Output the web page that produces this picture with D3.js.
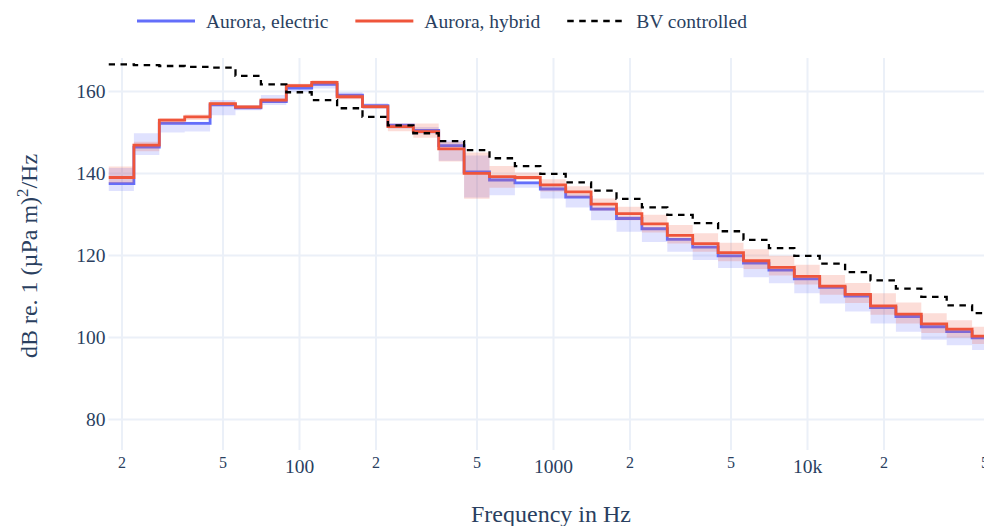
<!DOCTYPE html>
<html>
<head>
<meta charset="utf-8">
<script src="https://cdn.jsdelivr.net/npm/d3@7"></script>
<style>
  html, body { margin: 0; padding: 0; background: #fff; }
  svg { display: block; }
  text { font-family: "Liberation Serif", "Times New Roman", serif; fill: #2a3f5f; }
</style>
</head>
<body>
<svg id="chart" width="984" height="526"></svg>
<script>
// Third-octave band centre frequencies (Hz)
const bands = [20, 25, 31.5, 40, 50, 63, 80, 100, 125, 160, 200, 250, 315, 400, 500, 630, 800,
  1000, 1250, 1600, 2000, 2500, 3150, 4000, 5000, 6300, 8000, 10000, 12500, 16000, 20000,
  25000, 31500, 40000, 50000];

// Aurora, electric: band level and spread (dB)
const electric = [137.4, 146.3, 152.1, 152.1, 156.6, 155.9, 157.4, 160.7, 161.6, 159.0, 156.4, 151.7,
  150.4, 146.7, 140.3, 138.3, 137.6, 136.1, 134.1, 131.2, 128.9, 126.4, 123.8, 121.9, 119.8, 118.0,
  116.3, 114.2, 112.1, 110.0, 107.2, 105.0, 102.5, 101.3, 99.8];
const electricLow = [135.6, 144.4, 149.9, 150.1, 154.1, 155.3, 156.6, 159.8, 160.6, 158.2, 155.6, 150.8,
  149.5, 143.0, 134.0, 134.6, 136.4, 133.8, 131.6, 128.5, 125.7, 123.2, 120.8, 118.8, 116.8, 114.6,
  113.1, 110.7, 108.2, 106.2, 103.3, 101.3, 99.3, 98.0, 96.8];
const electricHigh = [141.2, 149.7, 152.6, 152.5, 157.8, 156.5, 159.0, 161.6, 162.0, 159.7, 157.0, 152.0,
  151.2, 148.0, 144.3, 139.3, 138.0, 137.0, 134.8, 131.8, 129.5, 126.8, 124.2, 122.3, 120.2, 118.4,
  116.7, 114.7, 112.5, 110.4, 107.6, 105.4, 102.9, 101.7, 100.2];

// Aurora, hybrid: band level and spread (dB)
const hybrid = [138.9, 146.8, 152.9, 153.7, 156.9, 156.1, 157.8, 161.3, 162.1, 158.6, 156.2, 151.3,
  150.1, 145.9, 139.9, 139.1, 138.9, 137.1, 135.4, 132.4, 130.1, 127.6, 124.8, 122.8, 120.6, 118.6,
  117.0, 114.8, 112.4, 110.4, 107.6, 105.6, 103.2, 101.9, 100.2];
const hybridLow = [137.5, 145.3, 152.0, 152.9, 156.3, 155.7, 157.2, 160.8, 161.4, 158.0, 155.6, 150.2,
  148.6, 142.8, 133.7, 136.4, 138.3, 135.5, 134.0, 130.8, 128.5, 125.5, 122.8, 120.8, 118.5, 116.6,
  115.0, 112.8, 110.3, 108.3, 105.4, 103.3, 101.0, 99.8, 98.3];
const hybridHigh = [141.6, 147.6, 153.4, 154.3, 157.4, 156.6, 158.3, 161.8, 162.6, 159.3, 156.7, 152.1,
  152.1, 147.6, 145.0, 141.7, 140.1, 138.5, 136.8, 133.8, 131.8, 129.8, 127.3, 125.3, 123.0, 121.4,
  119.8, 117.6, 115.1, 113.2, 110.7, 108.4, 105.8, 104.1, 102.5];

// BV controlled limit (dB)
const bvControlled = [166.5, 166.3, 166.1, 165.9, 165.7, 163.7, 161.6, 159.7, 157.8, 155.8, 153.7, 151.6,
  149.7, 147.8, 145.6, 143.6, 141.7, 139.8, 137.7, 135.7, 133.7, 131.6, 129.8, 127.8, 125.8, 123.7,
  121.7, 119.8, 117.9, 115.8, 113.8, 111.8, 109.8, 107.7, 105.8];

// Axis ticks
const xTickValues = [20, 50, 100, 200, 500, 1000, 2000, 5000, 10000, 20000, 50000];
const xTickLabels = ["2", "5", "100", "2", "5", "1000", "2", "5", "10k", "2", "5"];
const yTickValues = [80, 100, 120, 140, 160];

const seriesNames = ["Aurora, electric", "Aurora, hybrid", "BV controlled"];
const colors = { electric: "#636efa", hybrid: "#ef553b", bv: "#000000" };

// exact third-octave band edges from the nominal centre
const exactCentre = f => 1000 * Math.pow(10, Math.round(10 * Math.log10(f / 1000)) / 10);
const lowerEdge = f => exactCentre(f) * Math.pow(10, -0.05);
const upperEdge = f => exactCentre(f) * Math.pow(10, 0.05);

const svg = d3.select("#chart");
const plot = { left: 108.5, top: 58, bottom: 450 };
const fMin = lowerEdge(bands[0]);
const fMax = upperEdge(bands[bands.length - 1]);
const decadePx = 254;
plot.right = plot.left + decadePx * Math.log10(fMax / fMin);

const x = d3.scaleLog().domain([fMin, fMax]).range([plot.left, plot.right]);
const y = d3.scaleLinear().domain([72.44, 168.05]).range([plot.bottom, plot.top]);

// step data: each band's value from its lower edge, closed at the top band's upper edge
function steps(values, low, high) {
  const pts = bands.map((f, i) => ({ f: lowerEdge(f), v: values ? values[i] : null,
    lo: low ? low[i] : null, hi: high ? high[i] : null }));
  const last = pts[pts.length - 1];
  pts.push({ f: fMax, v: last.v, lo: last.lo, hi: last.hi });
  return pts;
}

svg.append("defs").append("clipPath").attr("id", "plotclip")
  .append("rect").attr("x", plot.left).attr("y", plot.top)
  .attr("width", plot.right - plot.left).attr("height", plot.bottom - plot.top);

// grid
const gridColor = "#ebf0f8";
const xGrid = svg.append("g").attr("transform", `translate(0,${plot.bottom})`)
  .call(d3.axisBottom(x).tickValues(xTickValues).tickSize(-(plot.bottom - plot.top)).tickFormat(""));
xGrid.select(".domain").remove();
xGrid.selectAll("line").attr("stroke", gridColor).attr("stroke-width", 2);

const yGrid = svg.append("g").attr("transform", `translate(${plot.left},0)`)
  .call(d3.axisLeft(y).tickValues(yTickValues).tickSize(-(plot.right - plot.left)).tickFormat(""));
yGrid.select(".domain").remove();
yGrid.selectAll("line").attr("stroke", gridColor).attr("stroke-width", 2);

// tick labels
const xAxis = svg.append("g").attr("transform", `translate(0,${plot.bottom})`)
  .call(d3.axisBottom(x).tickValues(xTickValues).tickSize(0)
    .tickFormat((d, i) => xTickLabels[i]));
xAxis.select(".domain").remove();
xAxis.selectAll("text")
  .attr("fill", "#2a3f5f")
  .style("font-family", '"Liberation Serif", "Times New Roman", serif')
  .style("font-size", (d, i) => (xTickLabels[i].length === 1 ? "16px" : "19.5px"))
  .attr("dy", null)
  .attr("y", (d, i) => (xTickLabels[i].length === 1 ? 17.8 : 22.5));

const yAxis = svg.append("g").attr("transform", `translate(${plot.left},0)`)
  .call(d3.axisLeft(y).tickValues(yTickValues).tickSize(0).tickPadding(3));
yAxis.select(".domain").remove();
yAxis.selectAll("text")
  .attr("fill", "#2a3f5f")
  .style("font-family", '"Liberation Serif", "Times New Roman", serif')
  .style("font-size", "19.5px");

// data layers
const g = svg.append("g").attr("clip-path", "url(#plotclip)");
const area = d3.area().x(d => x(d.f)).y0(d => y(d.lo)).y1(d => y(d.hi)).curve(d3.curveStepAfter);
const line = d3.line().x(d => x(d.f)).y(d => y(d.v)).curve(d3.curveStepAfter);

g.append("path").datum(steps(null, electricLow, electricHigh))
  .attr("d", area).attr("fill", "rgba(99,110,250,0.2)");
g.append("path").datum(steps(electric))
  .attr("d", line).attr("fill", "none").attr("stroke", colors.electric).attr("stroke-width", 2.8);
g.append("path").datum(steps(null, hybridLow, hybridHigh))
  .attr("d", area).attr("fill", "rgba(239,85,59,0.2)");
g.append("path").datum(steps(hybrid))
  .attr("d", line).attr("fill", "none").attr("stroke", colors.hybrid).attr("stroke-width", 2.8);
g.append("path").datum(steps(bvControlled))
  .attr("d", line).attr("fill", "none").attr("stroke", colors.bv).attr("stroke-width", 2.3)
  .attr("stroke-dasharray", "6.5,5.5");

// axis titles
svg.append("text")
  .attr("x", (plot.left + plot.right) / 2 - 2).attr("y", 521.5)
  .attr("text-anchor", "middle").style("font-size", "24px")
  .text("Frequency in Hz");

const yTitle = svg.append("text")
  .attr("transform", `translate(37,${(plot.top + plot.bottom) / 2 + 2}) rotate(-90)`)
  .attr("text-anchor", "middle").style("font-size", "24px");
yTitle.append("tspan").text("dB re. 1 (µPa m)");
yTitle.append("tspan").attr("dy", -9).style("font-size", "16.8px").text("2");
yTitle.append("tspan").attr("dy", 9).text("/Hz");

// legend
const legend = svg.append("g");
const legendItems = [
  { name: seriesNames[0], color: colors.electric, dash: null, width: 2.8 },
  { name: seriesNames[1], color: colors.hybrid, dash: null, width: 2.8 },
  { name: seriesNames[2], color: colors.bv, dash: "6.5,5.5", width: 2.3 }
];
let lx = 137;
const ly = 21;
legendItems.forEach(it => {
  legend.append("line").attr("x1", lx).attr("x2", lx + 58).attr("y1", ly).attr("y2", ly)
    .attr("stroke", it.color).attr("stroke-width", it.width)
    .attr("stroke-dasharray", it.dash);
  const t = legend.append("text").attr("x", lx + 69).attr("y", ly + 6.5)
    .style("font-size", "19.5px").text(it.name);
  lx = lx + 69 + t.node().getComputedTextLength() + 27;
});
</script>
</body>
</html>
